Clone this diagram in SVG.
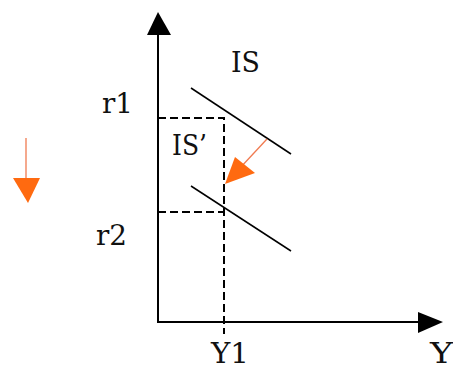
<svg xmlns="http://www.w3.org/2000/svg" width="453" height="369" viewBox="0 0 453 369">
<style>
.t{font-family:"DejaVu Serif","Liberation Serif",serif;font-size:27px;fill:#111}
.ax{stroke:#000;stroke-width:2;fill:none}
.ds{stroke:#000;stroke-width:2;stroke-dasharray:8,4;fill:none}
.is{stroke:#000;stroke-width:1.5;fill:none}
.or{stroke:#f07a50;stroke-width:1.3;fill:none}
</style>
<rect width="453" height="369" fill="#fff"/>
<g id="connectors">
<line class="ax" x1="158" y1="30" x2="158" y2="323"/>
<polygon points="158,12 147,35 171,35" fill="#000"/>
<line class="ax" x1="157" y1="322" x2="420" y2="322"/>
<polygon points="443,322 418,312 418,333" fill="#000"/>
<polyline class="ds" points="158,118 224,118 224,334"/>
<line class="ds" x1="158" y1="212" x2="224" y2="212"/>
</g>
<g id="IS"><line class="is" x1="191" y1="88" x2="291" y2="154"/><text class="t" x="231" y="72" textLength="29" lengthAdjust="spacingAndGlyphs">IS</text></g>
<g id="ISp"><line class="is" x1="191" y1="186" x2="291" y2="251"/><text class="t" x="172" y="155" textLength="35" lengthAdjust="spacingAndGlyphs">IS’</text></g>
<g id="shift"><line class="or" x1="267" y1="139" x2="240" y2="168"/><polygon points="225,184 235,157 255,173" fill="#ff6a10"/></g>
<g id="down"><line class="or" x1="26" y1="138" x2="26" y2="178"/><polygon points="13,178 40,178 28,203" fill="#ff6a10"/></g>
<g id="r1"><text class="t" x="102" y="113" textLength="31" lengthAdjust="spacingAndGlyphs">r1</text></g>
<g id="r2"><text class="t" x="96" y="245" textLength="31" lengthAdjust="spacingAndGlyphs">r2</text></g>
<g id="Y1"><text class="t" x="211" y="363" textLength="38" lengthAdjust="spacingAndGlyphs">Y1</text></g>
<g id="Y"><text class="t" x="430" y="363" textLength="23" lengthAdjust="spacingAndGlyphs">Y</text></g>
</svg>
